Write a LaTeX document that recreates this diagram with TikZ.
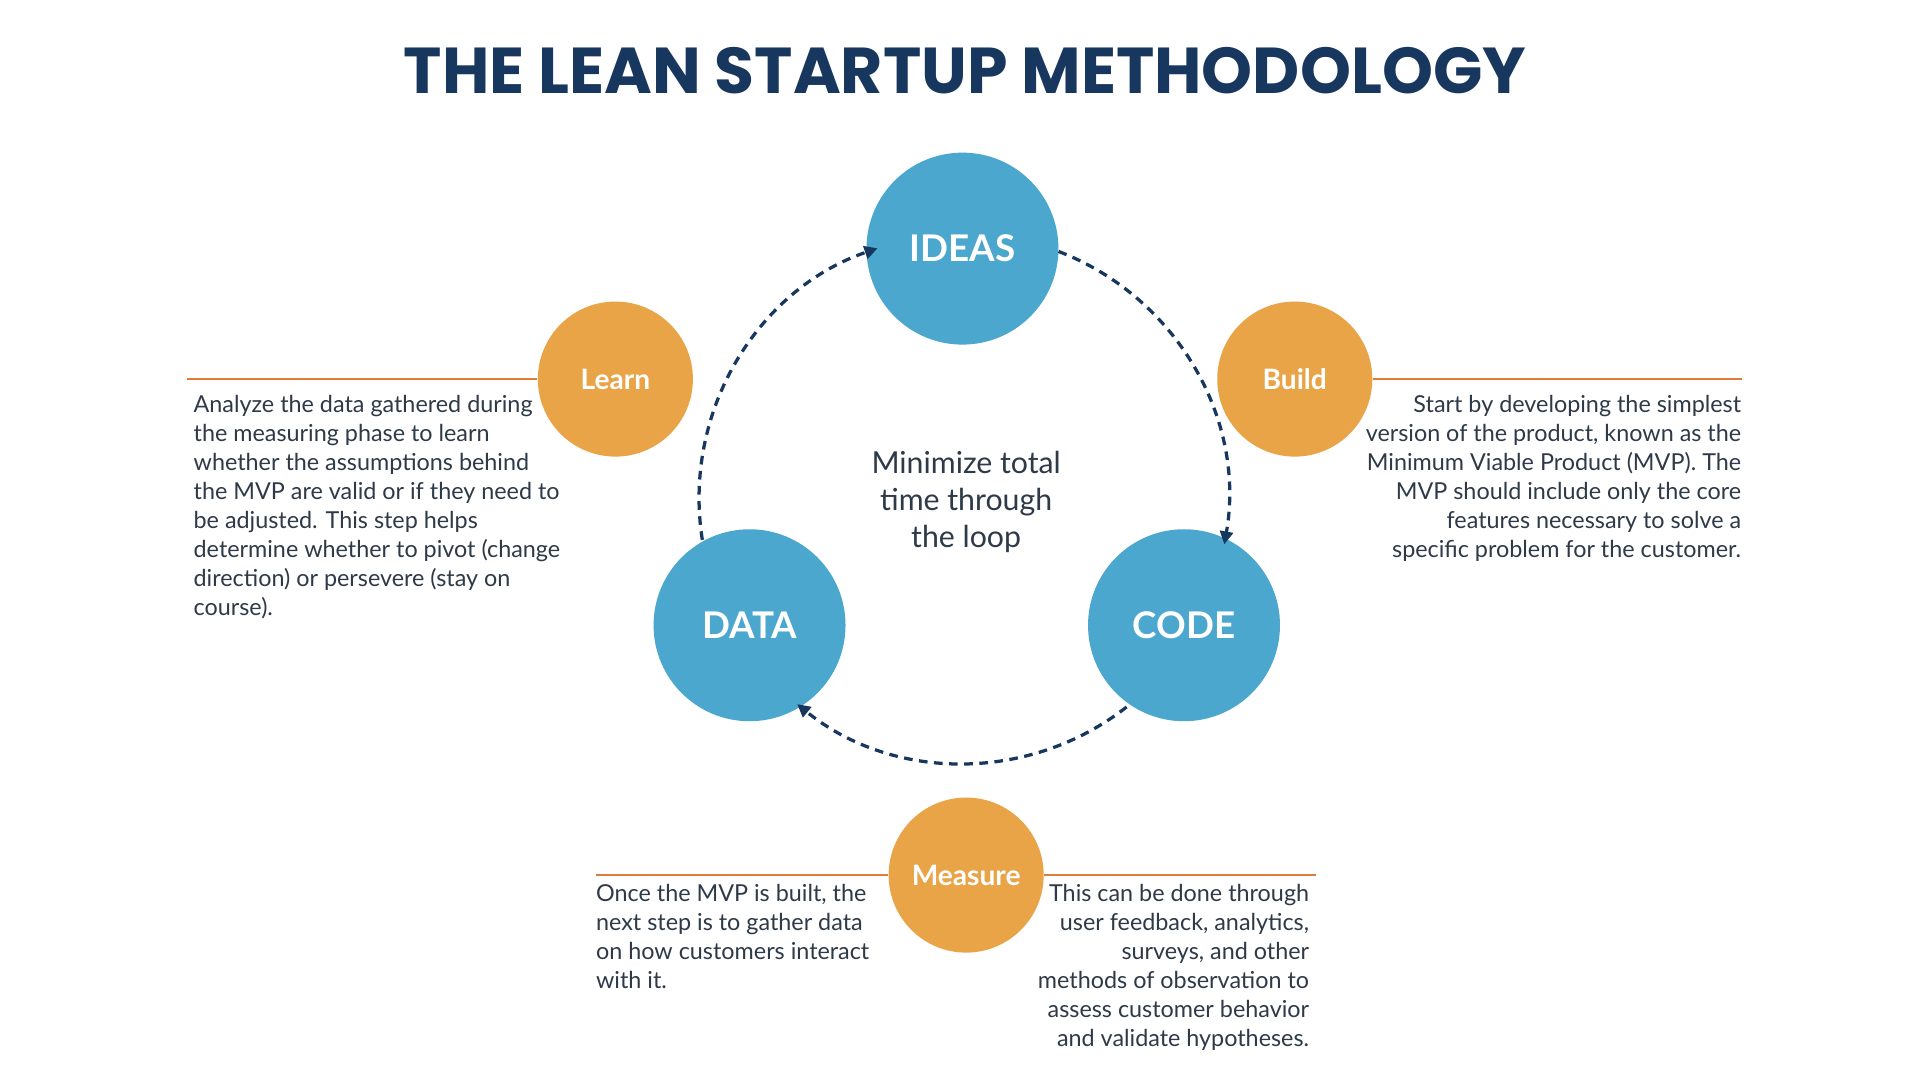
\documentclass[tikz,border=0pt]{standalone}
\usepackage{fontspec}
\setmainfont{Lato}
\newfontfamily\titlefont{Poppins}
\usetikzlibrary{positioning, arrows.meta}
\definecolor{navy}{HTML}{17375E}
\definecolor{stepblue}{HTML}{4BA7CE}
\definecolor{steporange}{HTML}{E9A448}
\definecolor{lineorange}{HTML}{E27A3A}
\definecolor{bodytext}{HTML}{2E3A48}
\tikzset{
  bigCircle/.style={circle, fill=stepblue, text=white, minimum size=3.12cm,
    font=\fontsize{17}{20}\selectfont\bfseries},
  smallCircle/.style={circle, fill=steporange, text=white, minimum size=2.52cm,
    font=\fontsize{13}{16}\selectfont\bfseries},
  rule/.style={lineorange, line width=1.3pt},
  loopArrow/.style={navy, line width=1.5pt, dash pattern=on 4pt off 3pt,
    -{Triangle[length=6pt,width=6pt]}},
  bodyText/.style={text=bodytext, inner sep=0pt,
    font=\fontsize{10.8}{13.4}\selectfont}
}
\begin{document}
\begin{tikzpicture}[x=0.02cm, y=0.02cm]
  \useasboundingbox[fill=white] (0,0) rectangle (1560,-877.5);

  \node (TITLE) [navy, font=\titlefont\fontsize{30}{34}\selectfont\bfseries] at (784,-57) {THE LEAN STARTUP METHODOLOGY};

  % loop
  \coordinate (LOOP) at (783,-405);
  \node (IDEAS) [bigCircle] at (782,-202) {IDEAS};
  \node (DATA) [bigCircle] at (609,-508) {DATA};
  \node (CODE) [bigCircle] at (962,-508) {CODE};
  \node (MIN) [bodyText, align=center, font=\fontsize{14}{17.2}\selectfont] at (785,-408) {Minimize total\\time through\\the loop};

  \draw [loopArrow] ([shift={(69:215)}]LOOP) arc[start angle=69, end angle=-10, radius=215];
  \draw [loopArrow] ([shift={(-52:215)}]LOOP) arc[start angle=-52, end angle=-129, radius=215];
  \draw [loopArrow] ([shift={(189:215)}]LOOP) arc[start angle=189, end angle=109, radius=215];

  % steps
  \node (LEARN) [smallCircle] at (500,-308) {Learn};
  \node (BUILD) [smallCircle] at (1052,-308) {Build};
  \node (MEASURE) [smallCircle] at (785,-711) {Measure};

  \coordinate (LEARNEND) at (152,-308);
  \coordinate (BUILDEND) at (1415,-308);
  \coordinate (MEASLEFT) at (484,-711);
  \coordinate (MEASRIGHT) at (1069,-711);
  \draw [rule] (LEARNEND) -- (LEARN);
  \draw [rule] (BUILD) -- (BUILDEND);
  \draw [rule] (MEASLEFT) -- (MEASURE);
  \draw [rule] (MEASURE) -- (MEASRIGHT);

  % texts
  \node (LEARNTXT) [bodyText, align=left, anchor=north west] at (157,-321) {Analyze the data gathered during\\the measuring phase to learn\\whether the assumptions behind\\the MVP are valid or if they need to\\be adjusted. This step helps\\determine whether to pivot (change\\direction) or persevere (stay on\\course).};
  \node (BUILDTXT) [bodyText, align=right, anchor=north east] at (1415,-321) {Start by developing the simplest\\version of the product, known as the\\Minimum Viable Product (MVP). The\\MVP should include only the core\\features necessary to solve a\\specific problem for the customer.};
  \node (MEASTXTA) [bodyText, align=left, anchor=north west] at (484,-718) {Once the MVP is built, the\\next step is to gather data\\on how customers interact\\with it.};
  \node (MEASTXTB) [bodyText, align=right, anchor=north east] at (1064,-718) {This can be done through\\user feedback, analytics,\\surveys, and other\\methods of observation to\\assess customer behavior\\and validate hypotheses.};
\end{tikzpicture}
\end{document}
